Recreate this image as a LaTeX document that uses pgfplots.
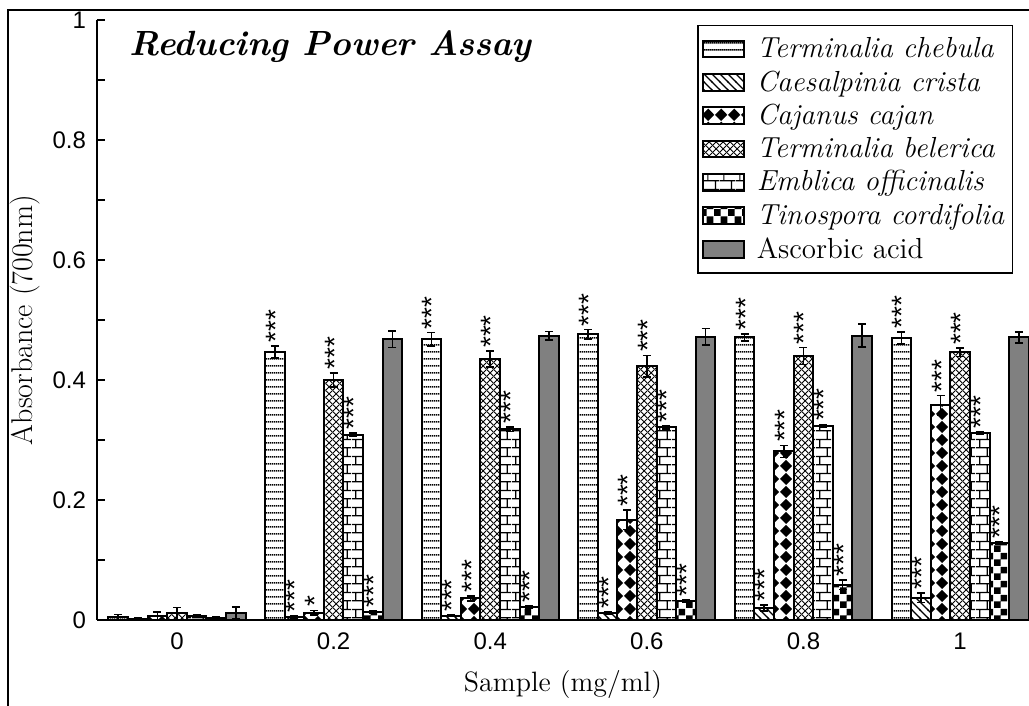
\documentclass[border=0pt]{standalone}
\usepackage{fontspec}
\setsansfont{Liberation Sans}
\usepackage{graphicx}
\usepackage{pgfplots}
\pgfplotsset{compat=1.18}
\usetikzlibrary{patterns}

% horizontal lines
\pgfdeclarepatternformonly{hl}{\pgfqpoint{0pt}{0pt}}{\pgfqpoint{1pt}{3.3pt}}{\pgfqpoint{1pt}{3.3pt}}{%
  \pgfsetlinewidth{0.8pt}\pgfpathmoveto{\pgfqpoint{-0.1pt}{1.65pt}}\pgfpathlineto{\pgfqpoint{1.1pt}{1.65pt}}\pgfusepath{stroke}}
% north west lines
\pgfdeclarepatternformonly{nwl}{\pgfqpoint{-0.5pt}{-0.5pt}}{\pgfqpoint{4.5pt}{4.5pt}}{\pgfqpoint{4pt}{4pt}}{%
  \pgfsetlinewidth{0.6pt}\pgfpathmoveto{\pgfqpoint{-0.5pt}{4.5pt}}\pgfpathlineto{\pgfqpoint{4.5pt}{-0.5pt}}\pgfusepath{stroke}}
% diamonds
\pgfdeclarepatternformonly{diam}{\pgfqpoint{0pt}{0pt}}{\pgfqpoint{6.5pt}{6.5pt}}{\pgfqpoint{6.5pt}{6.5pt}}{%
  \pgfpathmoveto{\pgfqpoint{3.25pt}{0pt}}\pgfpathlineto{\pgfqpoint{6.5pt}{3.25pt}}\pgfpathlineto{\pgfqpoint{3.25pt}{6.5pt}}\pgfpathlineto{\pgfqpoint{0pt}{3.25pt}}\pgfpathclose\pgfusepath{fill}}
% diagonal crosshatch
\pgfdeclarepatternformonly{xh}{\pgfqpoint{0pt}{0pt}}{\pgfqpoint{3.3pt}{3.3pt}}{\pgfqpoint{3.3pt}{3.3pt}}{%
  \pgfsetlinewidth{0.45pt}\pgfpathmoveto{\pgfqpoint{-0.2pt}{-0.2pt}}\pgfpathlineto{\pgfqpoint{3.5pt}{3.5pt}}\pgfpathmoveto{\pgfqpoint{-0.2pt}{3.5pt}}\pgfpathlineto{\pgfqpoint{3.5pt}{-0.2pt}}\pgfusepath{stroke}}
% bricks
\pgfdeclarepatternformonly{brick}{\pgfqpoint{0pt}{0pt}}{\pgfqpoint{8pt}{8.4pt}}{\pgfqpoint{8pt}{8.4pt}}{%
  \pgfsetlinewidth{0.6pt}%
  \pgfpathmoveto{\pgfqpoint{0pt}{2.1pt}}\pgfpathlineto{\pgfqpoint{8pt}{2.1pt}}%
  \pgfpathmoveto{\pgfqpoint{0pt}{6.3pt}}\pgfpathlineto{\pgfqpoint{8pt}{6.3pt}}%
  \pgfpathmoveto{\pgfqpoint{2pt}{2.1pt}}\pgfpathlineto{\pgfqpoint{2pt}{6.3pt}}%
  \pgfpathmoveto{\pgfqpoint{6pt}{6.3pt}}\pgfpathlineto{\pgfqpoint{6pt}{8.5pt}}%
  \pgfpathmoveto{\pgfqpoint{6pt}{-0.1pt}}\pgfpathlineto{\pgfqpoint{6pt}{2.1pt}}%
  \pgfusepath{stroke}}
% checkerboard
\pgfdeclarepatternformonly{chk}{\pgfqpoint{0pt}{0pt}}{\pgfqpoint{7pt}{7pt}}{\pgfqpoint{7pt}{7pt}}{%
  \pgfpathrectangle{\pgfqpoint{0pt}{0pt}}{\pgfqpoint{3.5pt}{3.5pt}}\pgfpathrectangle{\pgfqpoint{3.5pt}{3.5pt}}{\pgfqpoint{3.5pt}{3.5pt}}\pgfusepath{fill}}

\newcommand{\stars}[1]{{\sffamily\fontsize{14}{14}\selectfont\rotatebox{90}{\raisebox{0pt}[0.75em][-0.41em]{#1}}}}

\begin{document}
\begin{tikzpicture}
\useasboundingbox (0,0) rectangle (514.5pt,353pt);
\draw[line width=1pt] (3.75pt,0pt) -- (3.75pt,348pt) -- (514.5pt,348pt);
\begin{axis}[
  at={(48.5pt,43pt)}, anchor=south west,
  scale only axis, width=466pt, height=300pt,
  xmin=-0.511, xmax=5.44, ymin=0, ymax=1,
  axis lines*=left,
  axis line style={line width=1pt},
  ybar=0pt, bar width=9.8pt,
  xtick={0,1,2,3,4,5}, xticklabels={0,0.2,0.4,0.6,0.8,1},
  x tick style={draw=none},
  ytick={0,0.2,0.4,0.6,0.8,1},
  minor ytick={0.1,0.3,0.5,0.7,0.9},
  tick align=inside,
  major tick length=4pt, minor tick length=4pt,
  y tick style={line width=0.8pt, black},
  tick label style={font=\sffamily\fontsize{12}{12}\selectfont},
  /pgf/number format/assume math mode=true,
  yticklabel style={xshift=-2pt},
  xticklabel style={yshift=-3pt},
  every axis x label/.style={at={(axis description cs:0.5,0)}, anchor=base, yshift=-36pt, font=\fontsize{14}{14}\selectfont},
  every axis y label/.style={at={(axis description cs:-0.0773,0.5)}, rotate=90, anchor=center, font=\fontsize{15}{15}\selectfont},
  xlabel={Sample (mg/ml)},
  ylabel={Absorbance (700nm)},
  error bars/y dir=both, error bars/y explicit,
  error bars/error bar style={line width=0.8pt, black},
  error bars/error mark options={rotate=90, mark size=2pt, line width=0.8pt, black},
  point meta=explicit symbolic,
  visualization depends on={\thisrow{e} \as \myerr},
  nodes near coords={\stars{\pgfplotspointmeta}},
  every node near coord/.append style={yshift=\myerr*300pt, inner sep=1.2pt},
  legend image code/.code={\draw[#1] (0pt,-4.2pt) rectangle (20.5pt,4.2pt); \path (24.5pt,0pt);},
  legend cell align=left,
  legend style={at={(axis description cs:0.983,0.992)}, anchor=north east, draw=black, line width=0.7pt,
    font=\fontsize{14.5}{14.5}\selectfont, inner xsep=2pt, inner ysep=4pt, row sep=1pt},
]
\addplot[draw=black, line width=1pt, pattern=hl] table[x=x, y=y, y error=e, meta=s] {
x y e s
0 0.005 0.004 {}
1 0.447 0.010 ***
2 0.468 0.011 ***
3 0.476 0.008 ***
4 0.471 0.006 ***
5 0.470 0.010 ***
};
\addlegendentry{\textit{Terminalia chebula}}
\addplot[draw=black, line width=1pt, pattern=nwl] table[x=x, y=y, y error=e, meta=s] {
x y e s
0 0.002 0.001 {}
1 0.005 0.002 ***
2 0.007 0.001 ***
3 0.011 0.002 ***
4 0.020 0.005 ***
5 0.037 0.008 ***
};
\addlegendentry{\textit{Caesalpinia crista}}
\addplot[draw=black, line width=1pt, pattern=diam] table[x=x, y=y, y error=e, meta=s] {
x y e s
0 0.007 0.006 {}
1 0.012 0.004 *
2 0.036 0.004 ***
3 0.167 0.016 ***
4 0.281 0.010 ***
5 0.358 0.016 ***
};
\addlegendentry{\textit{Cajanus cajan}}
\addplot[draw=black, line width=1pt, pattern=xh] table[x=x, y=y, y error=e, meta=s] {
x y e s
0 0.011 0.010 {}
1 0.400 0.012 ***
2 0.435 0.013 ***
3 0.423 0.018 ***
4 0.440 0.014 ***
5 0.446 0.007 ***
};
\addlegendentry{\textit{Terminalia belerica}}
\addplot[draw=black, line width=1pt, pattern=brick] table[x=x, y=y, y error=e, meta=s] {
x y e s
0 0.006 0.002 {}
1 0.309 0.003 ***
2 0.318 0.004 ***
3 0.321 0.003 ***
4 0.324 0.002 ***
5 0.312 0.002 ***
};
\addlegendentry{\textit{Emblica officinalis}}
\addplot[draw=black, line width=1pt, pattern=chk] table[x=x, y=y, y error=e, meta=s] {
x y e s
0 0.004 0.002 {}
1 0.013 0.002 ***
2 0.021 0.002 ***
3 0.032 0.002 ***
4 0.059 0.008 ***
5 0.128 0.002 ***
};
\addlegendentry{\textit{Tinospora cordifolia}}
\addplot[draw=black, line width=1pt, fill=black!50] table[x=x, y=y, y error=e, meta=s] {
x y e s
0 0.012 0.010 {}
1 0.468 0.014 {}
2 0.474 0.007 {}
3 0.472 0.014 {}
4 0.474 0.019 {}
5 0.471 0.009 {}
};
\addlegendentry{Ascorbic acid}
\node[anchor=base west, inner sep=0pt, font=\bfseries\itshape\fontsize{17.5}{17.5}\selectfont] at (axis description cs:0.034,0.94) {Reducing Power Assay};
\end{axis}
\end{tikzpicture}
\end{document}
